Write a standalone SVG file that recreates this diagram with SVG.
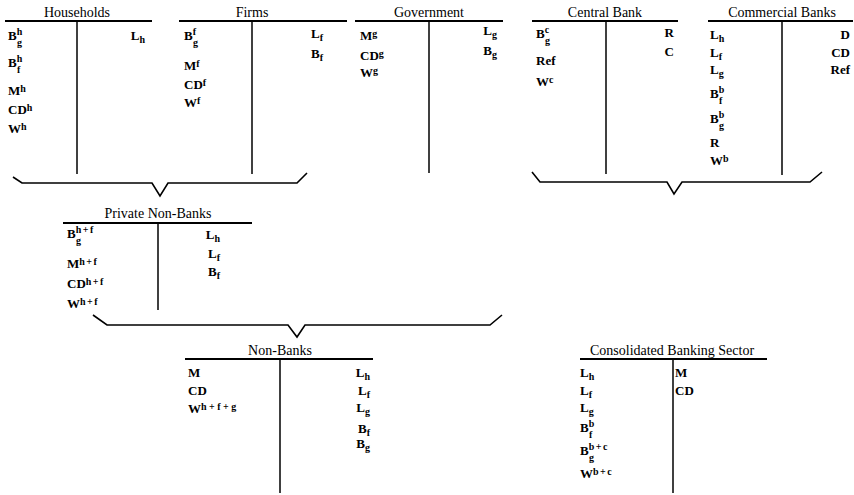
<svg xmlns="http://www.w3.org/2000/svg" width="854" height="495" viewBox="0 0 854 495">
<style>
text{font-family:"Liberation Serif","Times New Roman",serif;fill:#000}
.t{font-size:14px}
.l{font-size:13px;font-weight:bold}
.s{font-size:10px;font-weight:bold}
.w{letter-spacing:1.5px}
.ww{letter-spacing:2.5px}
.h{stroke:#000;stroke-width:1.8}
.v{stroke:#000;stroke-width:1.5}
.b{fill:none;stroke:#000;stroke-width:1.6;stroke-linejoin:miter}
</style>
<rect width="854" height="495" fill="#fff"/>

<g id="households">
<text class="t" x="77" y="17" text-anchor="middle">Households</text>
<line class="h" x1="5" y1="21" x2="152" y2="21"/>
<line class="v" x1="77" y1="21" x2="77" y2="174"/>
<text class="l" x="8" y="40">B<tspan class="s" dy="-5">h</tspan><tspan class="s" x="17" dy="11">g</tspan></text>
<text class="l" x="8" y="67">B<tspan class="s" dy="-5">h</tspan><tspan class="s" x="17" dy="11">f</tspan></text>
<text class="l" x="8" y="95">M<tspan class="s" dy="-3">h</tspan></text>
<text class="l" x="8" y="114">CD<tspan class="s" dy="-3">h</tspan></text>
<text class="l" x="8" y="133">W<tspan class="s" dy="-3">h</tspan></text>
<text class="l" x="145" y="40" text-anchor="end">L<tspan class="s" dy="3">h</tspan></text>
</g>

<g id="firms">
<text class="t" x="252" y="17" text-anchor="middle">Firms</text>
<line class="h" x1="179" y1="21" x2="347" y2="21"/>
<line class="v" x1="252" y1="21" x2="252" y2="174"/>
<text class="l" x="184" y="40">B<tspan class="s" dy="-5">f</tspan><tspan class="s" x="193" dy="11">g</tspan></text>
<text class="l" x="184" y="70">M<tspan class="s" dy="-3">f</tspan></text>
<text class="l" x="184" y="89">CD<tspan class="s" dy="-3">f</tspan></text>
<text class="l" x="184" y="107">W<tspan class="s" dy="-3">f</tspan></text>
<text class="l" x="323" y="38" text-anchor="end">L<tspan class="s" dy="3">f</tspan></text>
<text class="l" x="323" y="58" text-anchor="end">B<tspan class="s" dy="3">f</tspan></text>
</g>

<g id="government">
<text class="t" x="429" y="17" text-anchor="middle">Government</text>
<line class="h" x1="355" y1="21" x2="503" y2="21"/>
<line class="v" x1="429" y1="21" x2="429" y2="173"/>
<text class="l" x="360" y="40">M<tspan class="s" dy="-3">g</tspan></text>
<text class="l" x="360" y="60">CD<tspan class="s" dy="-3">g</tspan></text>
<text class="l" x="360" y="77">W<tspan class="s" dy="-3">g</tspan></text>
<text class="l" x="497" y="35" text-anchor="end">L<tspan class="s" dy="3">g</tspan></text>
<text class="l" x="497" y="55" text-anchor="end">B<tspan class="s" dy="3">g</tspan></text>
</g>

<g id="central-bank">
<text class="t" x="605" y="17" text-anchor="middle">Central Bank</text>
<line class="h" x1="532" y1="21" x2="678" y2="21"/>
<line class="v" x1="606" y1="21" x2="606" y2="174"/>
<text class="l" x="536" y="38">B<tspan class="s" dy="-5">c</tspan><tspan class="s" x="545" dy="11">g</tspan></text>
<text class="l" x="536" y="65">Ref</text>
<text class="l" x="536" y="86">W<tspan class="s" dy="-3">c</tspan></text>
<text class="l" x="674" y="37" text-anchor="end">R</text>
<text class="l" x="674" y="56" text-anchor="end">C</text>
</g>

<g id="commercial-banks">
<text class="t" x="782" y="17" text-anchor="middle">Commercial Banks</text>
<line class="h" x1="708" y1="21" x2="853" y2="21"/>
<line class="v" x1="782" y1="21" x2="782" y2="175"/>
<text class="l" x="710" y="39">L<tspan class="s" dy="3">h</tspan></text>
<text class="l" x="710" y="57">L<tspan class="s" dy="3">f</tspan></text>
<text class="l" x="710" y="74">L<tspan class="s" dy="3">g</tspan></text>
<text class="l" x="710" y="98">B<tspan class="s" dy="-5">b</tspan><tspan class="s" x="719" dy="11">f</tspan></text>
<text class="l" x="710" y="123">B<tspan class="s" dy="-5">b</tspan><tspan class="s" x="719" dy="11">g</tspan></text>
<text class="l" x="710" y="147">R</text>
<text class="l" x="710" y="165">W<tspan class="s" dy="-3">b</tspan></text>
<text class="l" x="850" y="39" text-anchor="end">D</text>
<text class="l" x="850" y="57" text-anchor="end">CD</text>
<text class="l" x="850" y="74" text-anchor="end">Ref</text>
</g>

<g id="private-non-banks">
<text class="t" x="158" y="218" text-anchor="middle">Private Non-Banks</text>
<line class="h" x1="63" y1="223" x2="252" y2="223"/>
<line class="v" x1="158" y1="223" x2="158" y2="310"/>
<text class="l" x="67" y="238">B<tspan class="s w" dy="-5">h+f</tspan><tspan class="s" x="76" dy="11">g</tspan></text>
<text class="l" x="67" y="268">M<tspan class="s w" dy="-3">h+f</tspan></text>
<text class="l" x="67" y="288">CD<tspan class="s w" dy="-3">h+f</tspan></text>
<text class="l" x="67" y="308">W<tspan class="s w" dy="-3">h+f</tspan></text>
<text class="l" x="220" y="239" text-anchor="end">L<tspan class="s" dy="3">h</tspan></text>
<text class="l" x="220" y="258" text-anchor="end">L<tspan class="s" dy="3">f</tspan></text>
<text class="l" x="220" y="276" text-anchor="end">B<tspan class="s" dy="3">f</tspan></text>
</g>

<g id="non-banks">
<text class="t" x="280" y="355" text-anchor="middle">Non-Banks</text>
<line class="h" x1="185" y1="359" x2="373" y2="359"/>
<line class="v" x1="280" y1="359" x2="280" y2="493"/>
<text class="l" x="188" y="377">M</text>
<text class="l" x="188" y="395">CD</text>
<text class="l" x="188" y="413">W<tspan class="s ww" dy="-3">h+f+g</tspan></text>
<text class="l" x="370" y="377" text-anchor="end">L<tspan class="s" dy="3">h</tspan></text>
<text class="l" x="370" y="395" text-anchor="end">L<tspan class="s" dy="3">f</tspan></text>
<text class="l" x="370" y="412" text-anchor="end">L<tspan class="s" dy="3">g</tspan></text>
<text class="l" x="370" y="433" text-anchor="end">B<tspan class="s" dy="3">f</tspan></text>
<text class="l" x="370" y="448" text-anchor="end">B<tspan class="s" dy="3">g</tspan></text>
</g>

<g id="consolidated-banking-sector">
<text class="t" x="672" y="355" text-anchor="middle">Consolidated Banking Sector</text>
<line class="h" x1="580" y1="359" x2="767" y2="359"/>
<line class="v" x1="673" y1="359" x2="673" y2="493"/>
<text class="l" x="580" y="377">L<tspan class="s" dy="3">h</tspan></text>
<text class="l" x="580" y="395">L<tspan class="s" dy="3">f</tspan></text>
<text class="l" x="580" y="412">L<tspan class="s" dy="3">g</tspan></text>
<text class="l" x="580" y="432">B<tspan class="s" dy="-5">b</tspan><tspan class="s" x="589" dy="11">f</tspan></text>
<text class="l" x="580" y="455">B<tspan class="s w" dy="-5">b+c</tspan><tspan class="s" x="589" dy="11">g</tspan></text>
<text class="l" x="580" y="478">W<tspan class="s w" dy="-3">b+c</tspan></text>
<text class="l" x="675" y="377">M</text>
<text class="l" x="675" y="395">CD</text>
</g>

<g id="connectors">
<polyline class="b" points="13,177 22,183 152,183 160,196 168,183 297,183 307,173"/>
<polyline class="b" points="532,172 540,182 667,182 674,194 682,182 810,182 822,172"/>
<polyline class="b" points="93,315 107,325 288,325 297,337 305,325 490,325 502,315"/>
</g>
</svg>
